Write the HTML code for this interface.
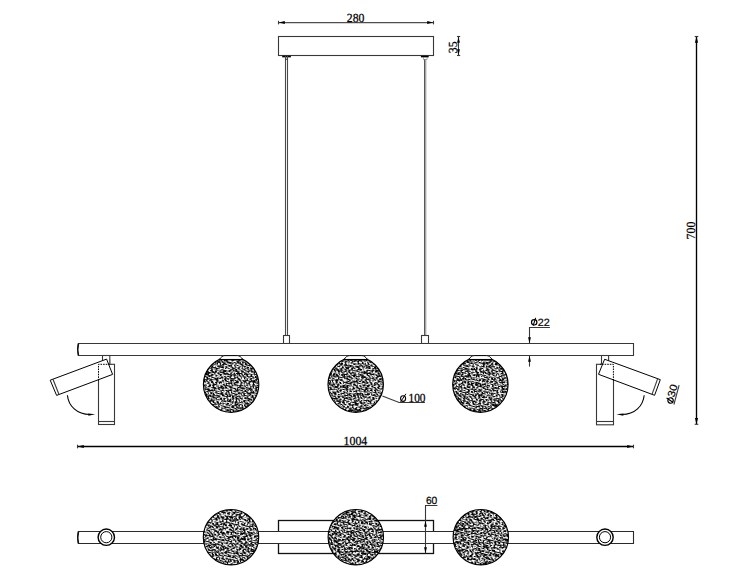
<!DOCTYPE html>
<html><head><meta charset="utf-8">
<style>
html,body{margin:0;padding:0;background:#fff;width:733px;height:575px;overflow:hidden}
svg{display:block}
.ln{fill:#fff;stroke:#383838;stroke-width:1.1}
.l1{stroke:#383838;stroke-width:1.1;fill:none}
.l2{stroke:#000;stroke-width:1.35;fill:none}
.serif{font-family:"Liberation Serif",serif;font-size:12.4px;fill:#000;stroke:#000;stroke-width:0.25;text-rendering:geometricPrecision}
.sans{font-family:"Liberation Sans",sans-serif;font-size:10.5px;fill:#000;stroke:#000;stroke-width:0.2;text-rendering:geometricPrecision}
</style></head><body>
<svg width="733" height="575" viewBox="0 0 733 575">
<defs>
<filter id="noise" x="0" y="0" width="100%" height="100%">
<feTurbulence type="fractalNoise" baseFrequency="0.5 0.8" numOctaves="1" seed="7"/>
<feColorMatrix type="matrix" values="0 0 0 0 1  0 0 0 0 1  0 0 0 0 1  14 0 0 0 -6.65" />
<feGaussianBlur stdDeviation="0.2"/>
</filter>
</defs>
<line x1="278.5" y1="22.6" x2="433.5" y2="22.6" stroke="#505050" stroke-width="1.3"/>
<line x1="278.5" y1="20.8" x2="278.5" y2="24.4" class="l1"/>
<line x1="433.5" y1="20.8" x2="433.5" y2="24.4" class="l1"/>
<polygon points="278.80,22.50 284.80,21.10 284.80,23.90" fill="#000" stroke="none"/>
<polygon points="433.20,22.50 427.20,23.90 427.20,21.10" fill="#000" stroke="none"/>
<text x="346.8" y="21.7" class="serif" text-anchor="start" textLength="17.6" lengthAdjust="spacingAndGlyphs">280</text>
<rect x="278.5" y="36.5" width="155" height="19" class="ln"/>
<line x1="458.5" y1="36.5" x2="458.5" y2="55.5" class="l1"/>
<line x1="457" y1="36.5" x2="460.2" y2="36.5" class="l1"/>
<line x1="457" y1="55.5" x2="460.2" y2="55.5" class="l1"/>
<polygon points="458.50,36.80 459.90,42.80 457.10,42.80" fill="#000" stroke="none"/>
<polygon points="458.50,55.20 457.10,49.20 459.90,49.20" fill="#000" stroke="none"/>
<text x="0" y="0" class="serif" text-anchor="start" textLength="11.8" lengthAdjust="spacingAndGlyphs" transform="translate(457.4,53.2) rotate(-90)">35</text>
<line x1="282.2" y1="56.6" x2="290.9" y2="56.6" stroke="#000" stroke-width="1.5"/>
<line x1="285.5" y1="56" x2="285.5" y2="335.5" stroke="#4a4a4a" stroke-width="1.1"/>
<line x1="287.5" y1="56" x2="287.5" y2="335.5" stroke="#4a4a4a" stroke-width="1.1"/>
<line x1="285.5" y1="59.3" x2="287.5" y2="59.3" class="l1"/>
<line x1="420.9" y1="56.6" x2="428.7" y2="56.6" stroke="#000" stroke-width="1.5"/>
<rect x="424" y="59" width="1" height="276.5" fill="#585858"/><rect x="425" y="59" width="1" height="276.5" fill="#a8a8a8"/><rect x="426" y="59" width="1" height="276.5" fill="#dedede"/>
<rect x="423.5" y="57.3" width="3.6" height="2" fill="#fff" stroke="#777" stroke-width="0.6"/>
<rect x="283.5" y="335.5" width="6" height="8" class="ln"/>
<rect x="421.5" y="335.5" width="7" height="8" class="ln"/>
<path d="M633.5,343.5 H78.5 Q76.8,349.5 78.5,355.5 H633.5 Z" class="ln"/>
<path d="M78.5,343.5 Q76.8,349.5 78.5,355.5" fill="none" stroke="#111" stroke-width="1.5"/>
<clipPath id="a0"><circle cx="231.1" cy="384.6" r="27.7"/></clipPath><circle cx="231.1" cy="384.6" r="27.7" fill="#000"/><g clip-path="url(#a0)"><g transform="rotate(15 231.1 384.6)"><rect x="191.4" y="344.90000000000003" width="79.4" height="79.4" filter="url(#noise)"/></g></g><circle cx="231.1" cy="384.6" r="27.7" fill="none" stroke="#000" stroke-width="1.15"/>
<path d="M219.29999999999998,359.6 C221.1,357 222.6,355.6 224.9,355.6 H237.29999999999998 C239.6,355.6 241.1,357 242.9,359.6 Z" fill="#fff" stroke="#000" stroke-width="1"/><line x1="219.29999999999998" y1="359.6" x2="242.9" y2="359.6" stroke="#000" stroke-width="1.3"/>
<clipPath id="a1"><circle cx="355.7" cy="384.6" r="27.7"/></clipPath><circle cx="355.7" cy="384.6" r="27.7" fill="#000"/><g clip-path="url(#a1)"><g transform="rotate(15 355.7 384.6)"><rect x="316.0" y="344.90000000000003" width="79.4" height="79.4" filter="url(#noise)"/></g></g><circle cx="355.7" cy="384.6" r="27.7" fill="none" stroke="#000" stroke-width="1.15"/>
<path d="M343.9,359.6 C345.7,357 347.2,355.6 349.5,355.6 H361.9 C364.2,355.6 365.7,357 367.5,359.6 Z" fill="#fff" stroke="#000" stroke-width="1"/><line x1="343.9" y1="359.6" x2="367.5" y2="359.6" stroke="#000" stroke-width="1.3"/>
<clipPath id="a2"><circle cx="480.4" cy="384.6" r="27.7"/></clipPath><circle cx="480.4" cy="384.6" r="27.7" fill="#000"/><g clip-path="url(#a2)"><g transform="rotate(15 480.4 384.6)"><rect x="440.7" y="344.90000000000003" width="79.4" height="79.4" filter="url(#noise)"/></g></g><circle cx="480.4" cy="384.6" r="27.7" fill="none" stroke="#000" stroke-width="1.15"/>
<path d="M468.59999999999997,359.6 C470.4,357 471.9,355.6 474.2,355.6 H486.59999999999997 C488.9,355.6 490.4,357 492.2,359.6 Z" fill="#fff" stroke="#000" stroke-width="1"/><line x1="468.59999999999997" y1="359.6" x2="492.2" y2="359.6" stroke="#000" stroke-width="1.3"/>
<rect x="102.5" y="355.5" width="7.3" height="8.8" class="ln"/>
<rect x="98.5" y="364.3" width="16" height="60.2" class="ln"/>
<line x1="98.5" y1="421.5" x2="114.5" y2="421.5" class="l1"/>
<polygon points="50.2,380.2 106.6,359.1 112.6,374.4 56.6,395.4" fill="#fff" stroke="#000" stroke-width="1"/>
<line x1="53.0" y1="379.2" x2="59.0" y2="394.5" class="l1"/>
<polyline points="98.5,380.5 98.5,364.3 111.2,364.3" fill="none" stroke="#000" stroke-width="1" stroke-dasharray="1.6 1"/>
<line x1="109.8" y1="359.5" x2="109.8" y2="364.3" stroke="#666" stroke-width="1"/>
<path d="M67.4,395.2 C68.5,406 77,414.5 90,414.5" fill="none" stroke="#000" stroke-width="1.1"/>
<polygon points="95.30,414.30 88.36,415.75 88.25,413.55" fill="#000" stroke="none"/>
<rect x="601.5" y="355.5" width="7.1" height="8.8" class="ln"/>
<rect x="596.5" y="364.3" width="17" height="60.5" class="ln"/>
<line x1="596.5" y1="421.5" x2="613.5" y2="421.5" class="l1"/>
<polygon points="604.6,359.25 660.3,379.65 654.6,395.3 598.5,374.3" fill="#fff" stroke="#000" stroke-width="1"/>
<line x1="657.6" y1="378.9" x2="652.0" y2="394.4" class="l1"/>
<polyline points="613.4,380.5 613.4,364.3 600,364.3" fill="none" stroke="#000" stroke-width="1" stroke-dasharray="1.6 1"/>
<line x1="601.5" y1="359.5" x2="601.5" y2="364.3" stroke="#333" stroke-width="1"/>
<path d="M644.2,395.2 C643,406 635,414.5 622,414.5" fill="none" stroke="#000" stroke-width="1.1"/>
<polygon points="616.40,414.30 623.45,413.55 623.34,415.75" fill="#000" stroke="none"/>
<g transform="translate(671.5,393.5) rotate(-75)"><ellipse cx="-7" cy="0.9" rx="2.7" ry="2.7" fill="none" stroke="#000" stroke-width="1.2"/><line x1="-5.6" y1="-3.6" x2="-8.2" y2="4" stroke="#000" stroke-width="1.1"/><text x="-3.3" y="3.8" class="sans" text-anchor="start" textLength="12.6" lengthAdjust="spacingAndGlyphs">30</text><line x1="-10" y1="5.2" x2="10" y2="5.2" class="l1"/></g>
<polyline points="549.9,327.5 529.5,327.5 529.5,343" fill="none" class="l1"/>
<polygon points="529.50,343.30 528.10,337.30 530.90,337.30" fill="#000" stroke="none"/>
<line x1="529.5" y1="356" x2="529.5" y2="366.6" class="l1"/>
<polygon points="529.50,355.80 530.90,361.80 528.10,361.80" fill="#000" stroke="none"/>
<ellipse cx="534.2" cy="322.3" rx="2.7" ry="2.7" fill="none" stroke="#000" stroke-width="1.2"/><line x1="535.6" y1="317.8" x2="533.2" y2="325.6" stroke="#000" stroke-width="1.1"/>
<text x="537.8" y="325.6" class="sans" text-anchor="start" textLength="12" lengthAdjust="spacingAndGlyphs">22</text>
<polyline points="382.4,396 399.1,402.5 424.9,402.5" fill="none" class="l1"/>
<ellipse cx="403.1" cy="398.6" rx="2.5" ry="2.8" fill="none" stroke="#000" stroke-width="1.1"/><line x1="405.9" y1="393.8" x2="400.6" y2="401.9" stroke="#000" stroke-width="1"/>
<text x="408.5" y="401.8" class="serif" text-anchor="start" textLength="17" lengthAdjust="spacingAndGlyphs">100</text>
<line x1="696.5" y1="36.5" x2="696.5" y2="424.3" class="l2"/>
<line x1="694.7" y1="36.5" x2="698.3" y2="36.5" class="l1"/>
<line x1="694.7" y1="424.3" x2="698.3" y2="424.3" class="l1"/>
<polygon points="696.50,36.80 698.10,42.80 694.90,42.80" fill="#000" stroke="none"/>
<polygon points="696.50,424.10 694.90,418.10 698.10,418.10" fill="#000" stroke="none"/>
<text x="0" y="0" class="serif" text-anchor="start" textLength="17.8" lengthAdjust="spacingAndGlyphs" transform="translate(695.3,239.4) rotate(-90)">700</text>
<line x1="77.5" y1="446.5" x2="633.5" y2="446.5" class="l2"/>
<line x1="77.5" y1="444.7" x2="77.5" y2="448.3" class="l1"/>
<line x1="633.5" y1="444.7" x2="633.5" y2="448.3" class="l1"/>
<polygon points="77.80,446.50 83.80,444.90 83.80,448.10" fill="#000" stroke="none"/>
<polygon points="633.20,446.50 627.20,448.10 627.20,444.90" fill="#000" stroke="none"/>
<text x="343.5" y="445.0" class="serif" text-anchor="start" textLength="23.8" lengthAdjust="spacingAndGlyphs">1004</text>
<rect x="278.5" y="520.5" width="155" height="33" fill="#fff" stroke="#111" stroke-width="1.3"/>
<path d="M633.5,531.5 H78.5 Q76.8,537.5 78.5,543.5 H633.5 Z" fill="#fff" stroke="#2a2a2a" stroke-width="1.1"/>
<path d="M78.5,531.5 Q76.8,537.5 78.5,543.5" fill="none" stroke="#111" stroke-width="1.5"/>
<circle cx="106.3" cy="537.2" r="8.2" fill="#fff" stroke="#000" stroke-width="1.4"/>
<circle cx="106.3" cy="537.2" r="5.6" fill="#fff" stroke="#000" stroke-width="1"/>
<circle cx="605.0" cy="537.2" r="8.2" fill="#fff" stroke="#000" stroke-width="1.4"/>
<circle cx="605.0" cy="537.2" r="5.6" fill="#fff" stroke="#000" stroke-width="1"/>
<clipPath id="b0"><circle cx="231.0" cy="537.2" r="27.7"/></clipPath><circle cx="231.0" cy="537.2" r="27.7" fill="#000"/><g clip-path="url(#b0)"><g transform="rotate(15 231.0 537.2)"><rect x="191.3" y="497.50000000000006" width="79.4" height="79.4" filter="url(#noise)"/></g></g><circle cx="231.0" cy="537.2" r="27.7" fill="none" stroke="#000" stroke-width="1.15"/>
<clipPath id="b1"><circle cx="355.8" cy="537.2" r="27.7"/></clipPath><circle cx="355.8" cy="537.2" r="27.7" fill="#000"/><g clip-path="url(#b1)"><g transform="rotate(15 355.8 537.2)"><rect x="316.1" y="497.50000000000006" width="79.4" height="79.4" filter="url(#noise)"/></g></g><circle cx="355.8" cy="537.2" r="27.7" fill="none" stroke="#000" stroke-width="1.15"/>
<clipPath id="b2"><circle cx="480.8" cy="537.2" r="27.7"/></clipPath><circle cx="480.8" cy="537.2" r="27.7" fill="#000"/><g clip-path="url(#b2)"><g transform="rotate(15 480.8 537.2)"><rect x="441.1" y="497.50000000000006" width="79.4" height="79.4" filter="url(#noise)"/></g></g><circle cx="480.8" cy="537.2" r="27.7" fill="none" stroke="#000" stroke-width="1.15"/>
<polyline points="437.4,505.5 425.5,505.5 425.5,553.5" fill="none" class="l1"/>
<polygon points="425.50,520.80 426.90,526.80 424.10,526.80" fill="#000" stroke="none"/>
<polygon points="425.50,553.20 424.10,547.20 426.90,547.20" fill="#000" stroke="none"/>
<text x="425.9" y="503.7" class="sans" text-anchor="start" textLength="11.4" lengthAdjust="spacingAndGlyphs">60</text>
</svg>
</body></html>
